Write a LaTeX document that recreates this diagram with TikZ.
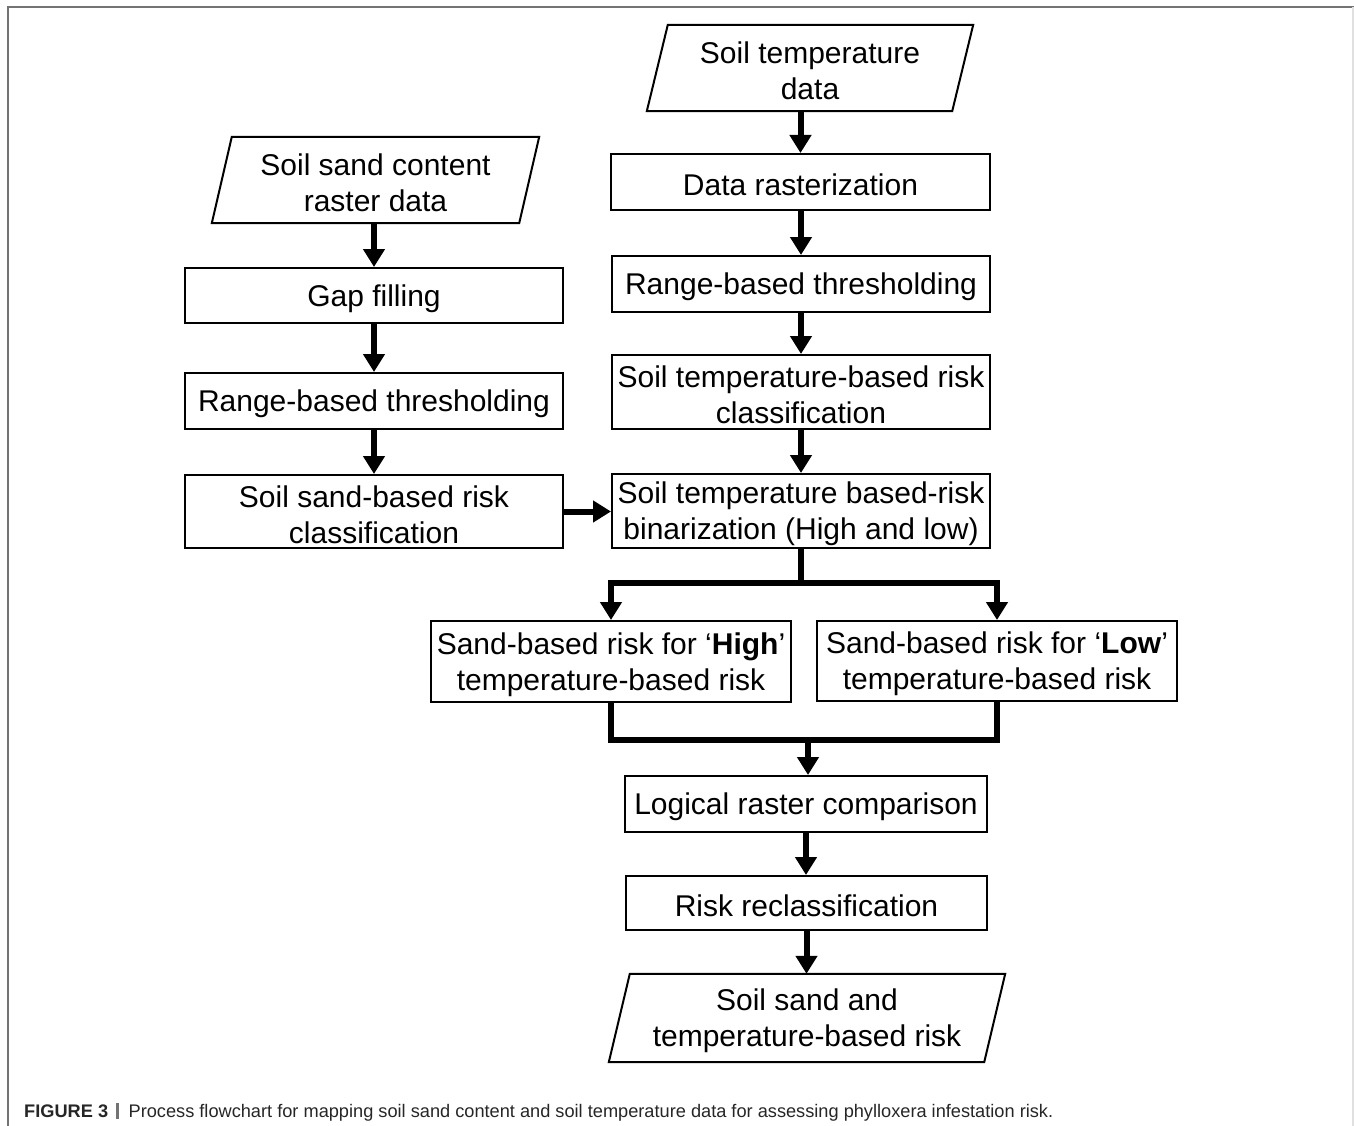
\documentclass[tikz,border=0pt]{standalone}
\usepackage{fontspec}
\setmainfont{Liberation Sans}
\usetikzlibrary{arrows.meta}
\begin{document}
\begin{tikzpicture}[x=1pt,y=-1pt,
  txt/.style={align=center, font=\fontsize{30}{36}\selectfont, inner sep=0pt},
  box/.style={draw, line width=2pt, inner sep=0pt},
  para/.style={inner sep=0pt},
  lbl/.style={label={[txt,yshift=-3pt]center:{#1}}},
  pframe/.style={draw, line width=2pt, line join=miter},
  arr/.style={line width=6pt, -{Triangle[length=18pt,width=21pt]}},
  link/.style={line width=6pt}
]
\useasboundingbox (0,0) rectangle (1354,1126);
% frame
\draw[line width=2pt, black!55] (8,1126) -- (8,7) -- (1354,7);
\draw[line width=1.5pt, black!12] (1353,7) -- (1353,1126);

% parallelograms
\node[para, minimum width=326, minimum height=86, lbl={Soil temperature\\data}] (st) at (810,68) {};
\node[para, minimum width=327, minimum height=86, lbl={Soil sand content\\raster data}] (ss) at (375.5,180) {};
\node[para, minimum width=396, minimum height=88, lbl={Soil sand and\\temperature-based risk}] (out) at (807,1018) {};
\foreach \n/\s in {st/21, ss/20, out/21}{
  \draw[pframe] ([xshift=\s]\n.north west) -- (\n.north east) -- ([xshift=-\s]\n.south east) -- (\n.south west) -- cycle;
}

% right column
\node[box, minimum width=379, minimum height=56, lbl={Data rasterization}] (dr) at (800.5,182) {};
\node[box, minimum width=378, minimum height=56, lbl={Range-based thresholding}] (rt) at (801,284) {};
\node[box, minimum width=378, minimum height=74, lbl={Soil temperature-based risk\\classification}] (tc) at (801,392) {};
\node[box, minimum width=378, minimum height=74, lbl={Soil temperature based-risk\\binarization (High and low)}] (tb) at (801,511) {};

% left column
\node[box, minimum width=378, minimum height=55, lbl={Gap filling}] (gf) at (374,295.5) {};
\node[box, minimum width=378, minimum height=56, lbl={Range-based thresholding}] (rl) at (374,401) {};
\node[box, minimum width=378, minimum height=73, lbl={Soil sand-based risk\\classification}] (sc) at (374,511.5) {};

% split
\node[box, minimum width=360, minimum height=81, lbl={Sand-based risk for `\textbf{High}'\\temperature-based risk}] (hi) at (611,661.5) {};
\node[box, minimum width=360, minimum height=80, lbl={Sand-based risk for `\textbf{Low}'\\temperature-based risk}] (lo) at (997,661) {};

% bottom
\node[box, minimum width=362, minimum height=56, lbl={Logical raster comparison}] (lc) at (806,804) {};
\node[box, minimum width=361, minimum height=54, lbl={Risk reclassification}] (rr) at (806.5,903) {};

% connectors
\draw[arr] (dr.north |- st.south) -- (dr.north);
\draw[arr] (dr.south -| rt.north) -- (rt.north);
\draw[arr] (rt.south) -- (tc.north);
\draw[arr] (tc.south) -- (tb.north);

\draw[arr] (ss.south -| gf.north) -- (gf.north);
\draw[arr] (gf.south) -- (rl.north);
\draw[arr] (rl.south) -- (sc.north);
\draw[arr] (sc.east) -- (tb.west |- sc.east);

\coordinate (j) at (801,583);
\draw[link] (tb.south) -- (j);
\draw[arr] (j) -| (hi.north);
\draw[arr] (j) -| (lo.north);

\coordinate (m) at (808,740);
\draw[link, line join=miter] (hi.south) -- (hi.south |- m) -- (lo.south |- m) -- (lo.south);
\draw[arr] (m) -- (m |- lc.north);
\draw[arr] (lc.south) -- (lc.south |- rr.north);
\draw[arr] (rr.south) -- (rr.south |- out.north);

% caption
\node[anchor=base west, inner sep=0pt, font=\fontsize{18.2}{22}\selectfont, text=black!85] (cap) at (24,1117)
  {\textbf{FIGURE 3}\hspace{8pt}\textcolor{black!55}{\rule[-2pt]{2.5pt}{16pt}}\hspace{10pt}Process flowchart for mapping soil sand content and soil temperature data for assessing phylloxera infestation risk.};
\end{tikzpicture}
\end{document}
